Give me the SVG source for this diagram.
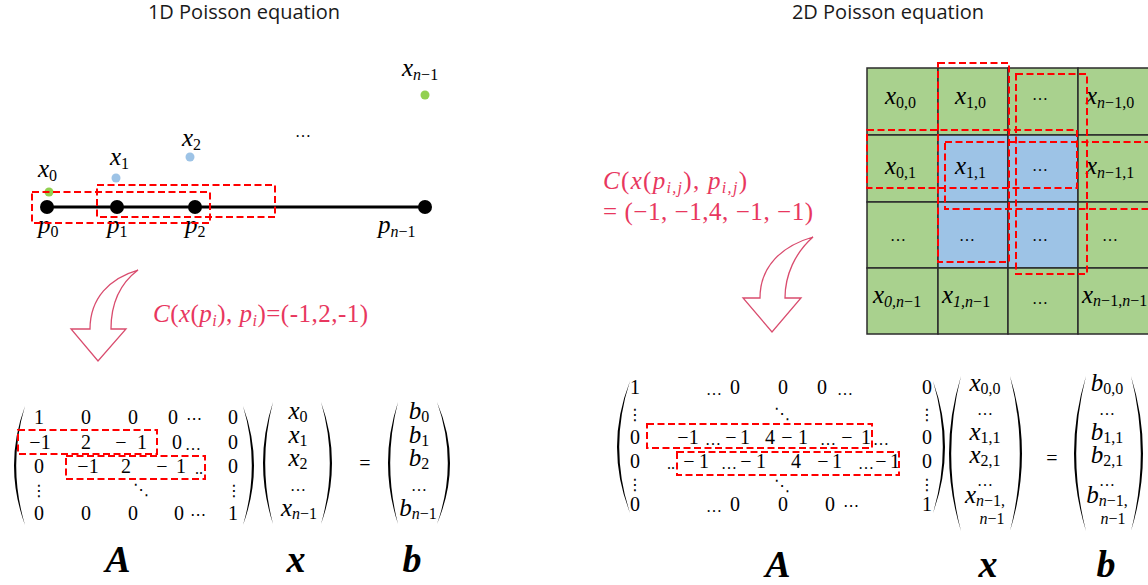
<svg xmlns="http://www.w3.org/2000/svg" width="1148" height="585" viewBox="0 0 1148 585">
<style>
.t{font-family:"Open Sans","Liberation Sans",sans-serif;font-size:20px;fill:#1a1a1a}
.m{font-family:"Liberation Serif",serif;font-size:20px;fill:#000}
.mi{font-family:"Liberation Serif",serif;font-style:italic;font-size:25px;fill:#000}
.sb{font-size:16px;font-style:normal}
.si{font-size:16px;font-style:italic}
.up{font-style:normal}
.red{fill:#E8375E}
.sym{font-family:"DejaVu Sans",sans-serif;font-size:16px;fill:#000}
.ell{font-family:"Liberation Serif",serif;font-size:16px;fill:#000}
.bi{font-family:"Liberation Serif",serif;font-weight:bold;font-style:italic;font-size:38px;fill:#000}
.dash{fill:none;stroke:#FF0000;stroke-width:2;stroke-dasharray:7 3.5}
.cg{fill:#A9D18E;stroke:#2b2b2b;stroke-width:1.5}
.cb{fill:#9DC3E6;stroke:#2b2b2b;stroke-width:1.5}
.arrow{fill:#fff;stroke:#D94C6E;stroke-width:1.3}
.par{fill:#000}
</style>

<!-- Titles -->
<g id="title-1d"><text class="t" x="244" y="19" text-anchor="middle">1D Poisson equation</text></g>
<g id="title-2d"><text class="t" x="888" y="19" text-anchor="middle">2D Poisson equation</text></g>

<!-- 1D line graph -->
<g id="line-1d">
  <line x1="46" y1="207" x2="425" y2="207" stroke="#000" stroke-width="3"/>
  <circle cx="47" cy="207" r="7"/>
  <circle cx="117" cy="207" r="7"/>
  <circle cx="195" cy="207" r="7"/>
  <circle cx="425" cy="207" r="7"/>
</g>
<g id="values-1d">
  <circle cx="49" cy="192" r="4.5" fill="#92D050"/>
  <circle cx="116" cy="178" r="4.5" fill="#9DC3E6"/>
  <circle cx="190" cy="157" r="4.5" fill="#9DC3E6"/>
  <circle cx="425" cy="95" r="4.5" fill="#92D050"/>
  <text class="mi" x="38" y="177">x<tspan class="sb" dy="4">0</tspan></text>
  <text class="mi" x="110" y="165">x<tspan class="sb" dy="4">1</tspan></text>
  <text class="mi" x="182" y="146">x<tspan class="sb" dy="4">2</tspan></text>
  <text class="mi" x="402" y="76">x<tspan class="si" dy="4">n</tspan><tspan class="sb">−1</tspan></text>
  <text class="ell" x="303" y="137" text-anchor="middle">…</text>
  <text class="mi" x="38" y="233">p<tspan class="sb" dy="4">0</tspan></text>
  <text class="mi" x="107" y="233">p<tspan class="sb" dy="4">1</tspan></text>
  <text class="mi" x="185" y="233">p<tspan class="sb" dy="4">2</tspan></text>
  <text class="mi" x="378" y="233">p<tspan class="si" dy="4">n</tspan><tspan class="sb">−1</tspan></text>
</g>
<g id="stencil-1d">
  <rect class="dash" x="32" y="192" width="178" height="31"/>
  <rect class="dash" x="97" y="185" width="178" height="32"/>
</g>

<!-- connectors: curved arrows -->
<g id="connectors">
  <path class="arrow" d="M138,270 C110,278 90,298 90,329 L71,329 L98,361 L126,329 L111,329 C111,305 118,285 138,270 Z"/>
  <path class="arrow" d="M813,237 C782,246 760,266 760,298 L743,298 L772,332 L801,298 L785,298 C785,275 795,253 813,237 Z"/>
</g>

<g id="label-1d">
  <text class="mi red" x="153" y="322" textLength="215" lengthAdjust="spacing">C<tspan class="up">(</tspan>x<tspan class="up">(</tspan>p<tspan class="si" dy="4">i</tspan><tspan class="up" dy="-4">), </tspan>p<tspan class="si" dy="4">i</tspan><tspan class="up" dy="-4">)=(-1,2,-1)</tspan></text>
</g>

<g id="label-2d">
  <text class="mi red" x="603" y="189" textLength="144" lengthAdjust="spacing">C<tspan class="up">(</tspan>x<tspan class="up">(</tspan>p<tspan class="si" dy="4">i,j</tspan><tspan class="up" dy="-4">), </tspan>p<tspan class="si" dy="4">i,j</tspan><tspan class="up" dy="-4">)</tspan></text>
  <text class="mi up red" x="603" y="220" textLength="210" lengthAdjust="spacing">= (−1, −1,4, −1, −1)</text>
</g>

<!-- 1D matrix equation -->
<g id="matrix-1d">
  <path class="par" d="M25,406 Q3,465.5 25,525 Q7.4,465.5 25,406 Z"/>
  <path class="par" d="M243,406 Q265,465.5 243,525 Q260.6,465.5 243,406 Z"/>
  <text class="m" text-anchor="middle" y="424"><tspan x="39">1</tspan><tspan x="86">0</tspan><tspan x="133">0</tspan><tspan x="173">0</tspan><tspan x="233">0</tspan></text>
  <text class="sym" x="194" y="424" text-anchor="middle">⋯</text>
  <text class="m" text-anchor="middle" y="449"><tspan x="40">−1</tspan><tspan x="86">2</tspan><tspan x="121">−</tspan><tspan x="142">1</tspan><tspan x="177">0</tspan><tspan x="233">0</tspan></text>
  <text class="ell" x="193" y="450" text-anchor="middle">…</text>
  <text class="m" text-anchor="middle" y="473"><tspan x="39">0</tspan><tspan x="88">−1</tspan><tspan x="126">2</tspan><tspan x="162">−</tspan><tspan x="181">1</tspan><tspan x="233">0</tspan></text>
  <text class="ell" x="199" y="474" text-anchor="middle">..</text>
  <text class="sym" x="39" y="496" text-anchor="middle">⋮</text>
  <text class="sym" x="141" y="495" text-anchor="middle">⋱</text>
  <text class="sym" x="234" y="496" text-anchor="middle">⋮</text>
  <text class="m" text-anchor="middle" y="520"><tspan x="39">0</tspan><tspan x="86">0</tspan><tspan x="133">0</tspan><tspan x="179">0</tspan><tspan x="233">1</tspan></text>
  <text class="sym" x="198" y="520" text-anchor="middle">⋯</text>
  <rect class="dash" x="18" y="430" width="139" height="24"/>
  <rect class="dash" x="66" y="456" width="139" height="23"/>
  <text class="bi" x="118" y="572" text-anchor="middle">A</text>
</g>
<g id="vector-x-1d">
  <path class="par" d="M273,402 Q253,463 273,524 Q257.4,463 273,402 Z"/>
  <path class="par" d="M321,402 Q343,463 321,524 Q338.6,463 321,402 Z"/>
  <text class="mi" x="298" y="419" text-anchor="middle">x<tspan class="sb" dy="3">0</tspan></text>
  <text class="mi" x="298" y="443" text-anchor="middle">x<tspan class="sb" dy="3">1</tspan></text>
  <text class="mi" x="298" y="466" text-anchor="middle">x<tspan class="sb" dy="3">2</tspan></text>
  <text class="ell" x="298" y="491" text-anchor="middle">…</text>
  <text class="mi" x="299" y="516" text-anchor="middle">x<tspan class="si" dy="3">n</tspan><tspan class="sb">−1</tspan></text>
  <text class="bi" x="296" y="572" text-anchor="middle">x</text>
</g>
<g id="equals-1d"><text class="m" x="365" y="470" text-anchor="middle" font-size="22">=</text></g>
<g id="vector-b-1d">
  <path class="par" d="M398,402 Q378,463 398,524 Q382.4,463 398,402 Z"/>
  <path class="par" d="M437,402 Q463,463 437,524 Q458.6,463 437,402 Z"/>
  <text class="mi" x="419" y="419" text-anchor="middle">b<tspan class="sb" dy="3">0</tspan></text>
  <text class="mi" x="419" y="443" text-anchor="middle">b<tspan class="sb" dy="3">1</tspan></text>
  <text class="mi" x="419" y="466" text-anchor="middle">b<tspan class="sb" dy="3">2</tspan></text>
  <text class="ell" x="419" y="491" text-anchor="middle">…</text>
  <text class="mi" x="418" y="516" text-anchor="middle">b<tspan class="si" dy="3">n</tspan><tspan class="sb">−1</tspan></text>
  <text class="bi" x="412" y="572" text-anchor="middle">b</text>
</g>

<!-- 2D grid -->
<g id="grid-2d">
  <rect class="cg" x="867" y="68" width="71" height="67"/>
  <rect class="cg" x="938" y="68" width="70" height="67"/>
  <rect class="cg" x="1008" y="68" width="70" height="67"/>
  <rect class="cg" x="1078" y="68" width="74" height="67"/>
  <rect class="cg" x="867" y="135" width="71" height="67"/>
  <rect class="cb" x="938" y="135" width="70" height="67"/>
  <rect class="cb" x="1008" y="135" width="70" height="67"/>
  <rect class="cg" x="1078" y="135" width="74" height="67"/>
  <rect class="cg" x="867" y="202" width="71" height="66"/>
  <rect class="cb" x="938" y="202" width="70" height="66"/>
  <rect class="cb" x="1008" y="202" width="70" height="66"/>
  <rect class="cg" x="1078" y="202" width="74" height="66"/>
  <rect class="cg" x="867" y="268" width="71" height="66"/>
  <rect class="cg" x="938" y="268" width="70" height="66"/>
  <rect class="cg" x="1008" y="268" width="70" height="66"/>
  <rect class="cg" x="1078" y="268" width="74" height="66"/>
</g>
<g id="grid-labels">
  <text class="mi" x="885" y="104">x<tspan class="sb" dy="4">0,0</tspan></text>
  <text class="mi" x="955" y="104">x<tspan class="sb" dy="4">1,0</tspan></text>
  <text class="ell" x="1040" y="100" text-anchor="middle">…</text>
  <text class="mi" x="1086" y="104">x<tspan class="si" dy="4">n</tspan><tspan class="sb">−1,0</tspan></text>
  <text class="mi" x="885" y="174">x<tspan class="sb" dy="4">0,1</tspan></text>
  <text class="mi" x="955" y="174">x<tspan class="sb" dy="4">1,1</tspan></text>
  <text class="ell" x="1040" y="171" text-anchor="middle">…</text>
  <text class="mi" x="1086" y="174">x<tspan class="si" dy="4">n</tspan><tspan class="sb">−1,1</tspan></text>
  <text class="ell" x="898" y="241" text-anchor="middle">…</text>
  <text class="ell" x="967" y="241" text-anchor="middle">…</text>
  <text class="ell" x="1040" y="241" text-anchor="middle">…</text>
  <text class="ell" x="1110" y="241" text-anchor="middle">…</text>
  <text class="mi" x="873" y="303">x<tspan class="si" dy="4">0,n</tspan><tspan class="sb">−1</tspan></text>
  <text class="mi" x="942" y="303">x<tspan class="si" dy="4">1,n</tspan><tspan class="sb">−1</tspan></text>
  <text class="ell" x="1040" y="304" text-anchor="middle">…</text>
  <text class="mi" x="1082" y="303" font-size="19">x<tspan class="si" dy="3" font-size="13">n</tspan><tspan class="sb" font-size="13">−1,</tspan><tspan class="si" font-size="13">n</tspan><tspan class="sb" font-size="13">−1</tspan></text>
</g>
<g id="stencil-2d">
  <rect class="dash" x="938" y="63" width="71" height="199"/>
  <rect class="dash" x="867" y="130" width="210" height="58"/>
  <rect class="dash" x="1016" y="74" width="71" height="200"/>
  <rect class="dash" x="945" y="142" width="210" height="67"/>
</g>

<!-- 2D matrix equation -->
<g id="matrix-2d">
  <path class="par" d="M630,381 Q604,447 630,513 Q608.4,447 630,381 Z"/>
  <path class="par" d="M933,381 Q957,447 933,513 Q952.6,447 933,381 Z"/>
  <text class="m" text-anchor="middle" y="394"><tspan x="635">1</tspan><tspan x="735">0</tspan><tspan x="783">0</tspan><tspan x="822">0</tspan><tspan x="927">0</tspan></text>
  <text class="ell" text-anchor="middle" y="395"><tspan x="714">…</tspan><tspan x="845">…</tspan></text>
  <text class="sym" text-anchor="middle" y="420"><tspan x="635">⋮</tspan><tspan x="927">⋮</tspan></text>
  <text class="sym" x="782" y="419" text-anchor="middle">⋱</text>
  <text class="m" text-anchor="middle" y="444"><tspan x="635">0</tspan><tspan x="688">−1</tspan><tspan x="731">−</tspan><tspan x="745">1</tspan><tspan x="770">4</tspan><tspan x="787">−</tspan><tspan x="803">1</tspan><tspan x="847">−</tspan><tspan x="866">1</tspan><tspan x="927">0</tspan></text>
  <text class="ell" text-anchor="middle" y="445"><tspan x="713">…</tspan><tspan x="828">…</tspan><tspan x="881">…</tspan></text>
  <text class="m" text-anchor="middle" y="468"><tspan x="635">0</tspan><tspan x="689">−</tspan><tspan x="704">1</tspan><tspan x="746">−</tspan><tspan x="761">1</tspan><tspan x="796">4</tspan><tspan x="823">−</tspan><tspan x="837">1</tspan><tspan x="881">−</tspan><tspan x="895">1</tspan><tspan x="927">0</tspan></text>
  <text class="ell" text-anchor="middle" y="469"><tspan x="671">..</tspan><tspan x="729">…</tspan><tspan x="866">…</tspan></text>
  <text class="sym" text-anchor="middle" y="490"><tspan x="635">⋮</tspan><tspan x="927">⋮</tspan></text>
  <text class="sym" x="782" y="491" text-anchor="middle">⋱</text>
  <text class="m" text-anchor="middle" y="511"><tspan x="635">0</tspan><tspan x="735">0</tspan><tspan x="783">0</tspan><tspan x="830">0</tspan><tspan x="927">1</tspan></text>
  <text class="ell" x="714" y="512" text-anchor="middle">…</text>
  <text class="sym" x="851" y="511" text-anchor="middle">⋯</text>
  <rect class="dash" x="647" y="424" width="225" height="24"/>
  <rect class="dash" x="677" y="452" width="222" height="23"/>
  <text class="bi" x="778" y="577" text-anchor="middle">A</text>
</g>
<g id="vector-x-2d">
  <path class="par" d="M961,376 Q937,453.5 961,531 Q941.4,453.5 961,376 Z"/>
  <path class="par" d="M1010,376 Q1034,453.5 1010,531 Q1029.6,453.5 1010,376 Z"/>
  <text class="mi" x="985" y="391" text-anchor="middle">x<tspan class="sb" dy="3">0,0</tspan></text>
  <text class="ell" x="985" y="415" text-anchor="middle">…</text>
  <text class="mi" x="985" y="440" text-anchor="middle">x<tspan class="sb" dy="3">1,1</tspan></text>
  <text class="mi" x="985" y="463" text-anchor="middle">x<tspan class="sb" dy="3">2,1</tspan></text>
  <text class="ell" x="985" y="486" text-anchor="middle">…</text>
  <text class="mi" x="985" y="503" text-anchor="middle">x<tspan class="si" dy="3">n</tspan><tspan class="sb">−1,</tspan></text>
  <text class="si" font-family="Liberation Serif, serif" x="992" y="524" text-anchor="middle">n<tspan class="sb">−1</tspan></text>
  <text class="bi" x="988" y="577" text-anchor="middle">x</text>
</g>
<g id="equals-2d"><text class="m" x="1052" y="465" text-anchor="middle" font-size="22">=</text></g>
<g id="vector-b-2d">
  <path class="par" d="M1086,376 Q1062,453.5 1086,531 Q1066.4,453.5 1086,376 Z"/>
  <path class="par" d="M1131,376 Q1155,453.5 1131,531 Q1150.6,453.5 1131,376 Z"/>
  <text class="mi" x="1107" y="391" text-anchor="middle">b<tspan class="sb" dy="3">0,0</tspan></text>
  <text class="ell" x="1107" y="415" text-anchor="middle">…</text>
  <text class="mi" x="1107" y="440" text-anchor="middle">b<tspan class="sb" dy="3">1,1</tspan></text>
  <text class="mi" x="1107" y="463" text-anchor="middle">b<tspan class="sb" dy="3">2,1</tspan></text>
  <text class="ell" x="1107" y="486" text-anchor="middle">…</text>
  <text class="mi" x="1107" y="503" text-anchor="middle">b<tspan class="si" dy="3">n</tspan><tspan class="sb">−1,</tspan></text>
  <text class="si" font-family="Liberation Serif, serif" x="1113" y="524" text-anchor="middle">n<tspan class="sb">−1</tspan></text>
  <text class="bi" x="1106" y="577" text-anchor="middle">b</text>
</g>
</svg>
